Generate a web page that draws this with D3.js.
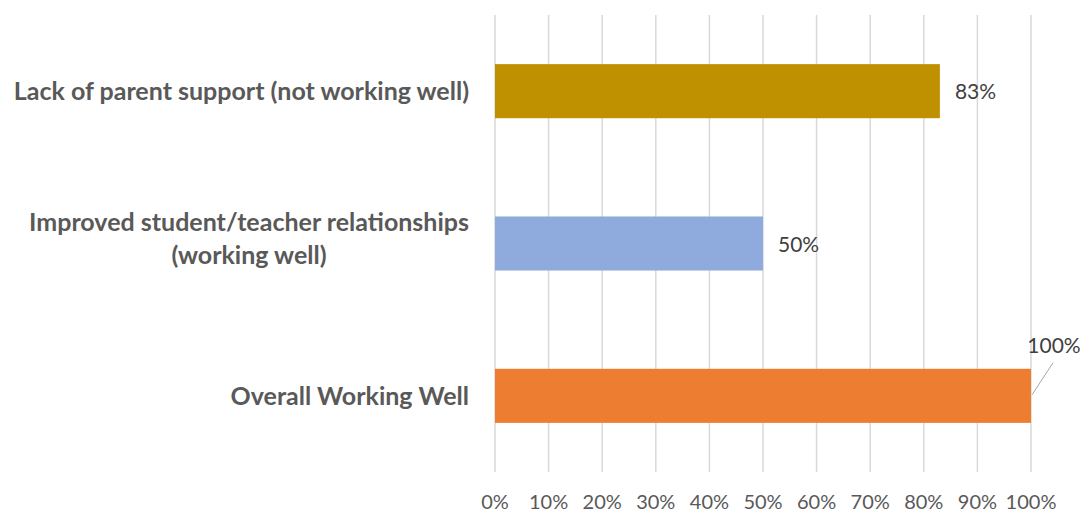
<!DOCTYPE html>
<html lang="en">
	<head>
		<meta charset="utf-8">
		<title>Working well</title>
		<script src="https://d3js.org/d3.v7.min.js"></script>
		<style>
			body { margin: 0; background: #fff; }
		</style>
	</head>
	<body>
		<script type="text/javascript">

			// data
			var categories = ["Lack of parent support (not working well)", "Improved student/teacher relationships (working well)", "Overall Working Well"];
			var labelLines = [["Lack of parent support (not working well)"], ["Improved student/teacher relationships", "(working well)"], ["Overall Working Well"]];
			var values = [0.83, 0.50, 1.00];
			var colors = ["#BF9000", "#8FAADC", "#ED7D31"];
			var ticks = [0, 0.1, 0.2, 0.3, 0.4, 0.5, 0.6, 0.7, 0.8, 0.9, 1.0];

			var w = 1082;
			var h = 512;
			var plotLeft = 495, plotRight = 1031, plotTop = 15, plotBottom = 472;

			var xScale = d3.scaleLinear().domain([0, 1]).range([plotLeft, plotRight]);
			var yScale = d3.scaleBand().domain(categories).range([plotTop, plotBottom]).paddingInner(0.645).paddingOuter(0.3225);

			var svg = d3.select("body").append("svg").attr("width", w).attr("height", h);
			var font = "Lato, 'Open Sans', sans-serif";

			// gridlines
			svg.append("g").selectAll("line").data(ticks).enter().append("line")
				.attr("x1", d => xScale(d)).attr("x2", d => xScale(d))
				.attr("y1", plotTop).attr("y2", plotBottom)
				.attr("stroke", "#d9d9d9").attr("stroke-width", 1.5);

			// x axis tick labels
			svg.append("g").selectAll("text").data(ticks).enter().append("text")
				.attr("x", d => xScale(d)).attr("y", 509)
				.attr("text-anchor", "middle")
				.attr("font-family", font).attr("font-size", "20px").attr("fill", "#595959")
				.text(d => Math.round(d * 100) + "%");

			// bars
			svg.append("g").selectAll("rect").data(categories).enter().append("rect")
				.attr("x", xScale(0))
				.attr("y", d => yScale(d))
				.attr("width", (d, i) => xScale(values[i]) - xScale(0))
				.attr("height", yScale.bandwidth())
				.attr("fill", (d, i) => colors[i]);

			// category labels
			var lab = svg.append("g").selectAll("text").data(categories).enter().append("text")
				.attr("font-family", font).attr("font-size", "25px").attr("font-weight", "bold").attr("fill", "#595959")
				.attr("text-anchor", "end");
			lab.each(function(d, i) {
				var lines = labelLines[i];
				var cy = yScale(d) + yScale.bandwidth() / 2;
				var t = d3.select(this);
				var y0 = cy + 9 - (lines.length - 1) * 22;
				lines.forEach(function(l, j) {
					t.append("tspan").attr("x", 469).attr("y", y0 + j * 33).text(l);
				});
				if (lines.length > 1) {
					// wrapped lines are centred on the first one
					var first = t.select("tspan").node().getComputedTextLength();
					t.selectAll("tspan").filter((e, j) => j > 0)
						.attr("text-anchor", "middle").attr("x", 469 - first / 2);
				}
			});

			// value labels
			svg.append("g").selectAll("text").data(categories).enter().append("text")
				.attr("x", (d, i) => values[i] >= 1 ? xScale(values[i]) + 23 : xScale(values[i]) + 15)
				.attr("y", (d, i) => values[i] >= 1 ? yScale(d) - 16 : yScale(d) + yScale.bandwidth() / 2 + 8)
				.attr("text-anchor", (d, i) => values[i] >= 1 ? "middle" : "start")
				.attr("font-family", font).attr("font-size", "21px").attr("fill", "#404040")
				.text((d, i) => Math.round(values[i] * 100) + "%");

			// leader line for the label placed above the bar end
			svg.append("g").selectAll("line").data(categories.filter((d, i) => values[i] >= 1)).enter().append("line")
				.attr("x1", d => xScale(values[categories.indexOf(d)]) + 1)
				.attr("y1", d => yScale(d) + yScale.bandwidth() / 2 - 1)
				.attr("x2", d => xScale(values[categories.indexOf(d)]) + 22)
				.attr("y2", d => yScale(d) - 6)
				.attr("stroke", "#a6a6a6").attr("stroke-width", 1);

		</script>
	</body>
</html>
